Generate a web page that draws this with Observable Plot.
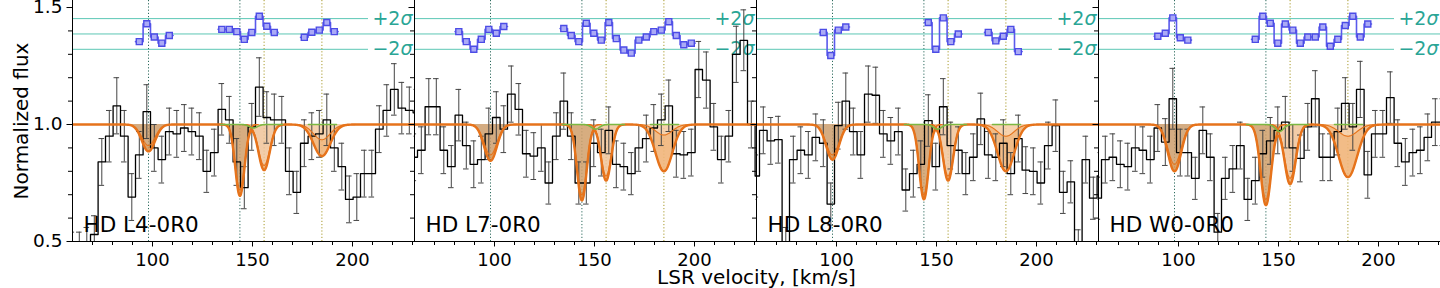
<!DOCTYPE html>
<html><head><meta charset="utf-8">
<script src="https://cdn.jsdelivr.net/npm/d3@7"></script>
<script src="https://cdn.jsdelivr.net/npm/@observablehq/plot@0.6"></script>
<style>body{margin:0;background:#fff} #chart svg{display:block}</style>
</head><body><div id="chart"></div>
<script>
const panels = ["HD L4-0R0", "HD L7-0R0", "HD L8-0R0", "HD W0-0R0"];
const binEdges = [57.8, 61.5, 65.3, 69, 72.8, 76.5, 80.3, 84, 87.8, 91.5, 95.3, 99, 102.8, 106.5, 110.3, 114, 117.8, 121.5, 125.3, 129, 132.8, 136.5, 140.3, 144, 147.8, 151.5, 155.3, 159, 162.8, 166.5, 170.3, 174, 177.8, 181.5, 185.3, 189, 192.8, 196.5, 200.3, 204, 207.8, 211.5, 215.3, 219, 222.8, 226.5, 230.3, 234];

const flux_L4 = [0.45, 0.45, 0.48, 0.53, 0.84, 0.95, 1.08, 0.95, 0.69, 0.87, 1.055, 0.90, 0.85, 0.97, 0.96, 0.985, 0.97, 0.95, 0.80, 0.88, 1.065, 1.02, 0.84, 0.73, 0.99, 1.16, 1.03, 1.02, 1.02, 0.80, 0.71, 0.92, 0.95, 0.96, 1.02, 0.90, 0.82, 0.68, 0.69, 0.79, 0.79, 0.98, 1.06, 1.15, 1.07, 1.06, 1.05];
const flux_L7 = [0.86, 0.89, 1.076, 1.076, 0.89, 0.82, 1.04, 0.91, 0.83, 0.85, 0.96, 1.03, 0.98, 1.13, 1.065, 0.875, 0.865, 0.90, 0.75, 0.95, 1.10, 0.95, 0.75, 0.75, 0.92, 0.88, 0.975, 0.83, 0.82, 0.79, 0.90, 0.94, 0.985, 1.02, 1.08, 0.875, 0.87, 0.88, 1.235, 1.19, 0.99, 0.85, 0.95, 1.30, 1.36, 1.0, 0.78];
const flux_L8 = [0.78, 0.975, 0.93, 0.935, 0.48, 0.85, 0.89, 0.87, 0.945, 0.92, 0.66, 0.995, 1.10, 0.97, 0.87, 1.13, 1.125, 0.96, 0.93, 0.97, 0.72, 0.79, 0.83, 1.017, 0.82, 1.076, 0.91, 0.89, 0.79, 0.86, 1.024, 0.87, 0.86, 0.92, 0.79, 0.94, 0.805, 0.80, 0.75, 0.91, 0.995, 0.71, 0.755, 0.47, 0.85, 0.685, 0.78];
const flux_W0 = [0.685, 0.85, 0.86, 0.83, 0.82, 0.90, 0.89, 0.85, 0.985, 0.925, 1.11, 0.88, 0.88, 0.77, 0.975, 0.86, 0.54, 0.77, 0.81, 0.91, 0.68, 0.76, 0.875, 0.93, 0.975, 1.01, 0.90, 0.855, 0.99, 1.11, 0.86, 0.86, 0.97, 1.09, 0.99, 1.15, 0.785, 0.96, 0.96, 1.115, 0.92, 0.84, 0.88, 0.89, 0.945, 1.01, 1.01];

const err_L4 = [0.09,0.09,0.08,0.08,0.1,0.11,0.12,0.11,0.1,0.1,0.115,0.1,0.1,0.1,0.1,0.1,0.1,0.1,0.09,0.1,0.11,0.1,0.1,0.09,0.1,0.125,0.11,0.11,0.1,0.1,0.09,0.1,0.1,0.1,0.11,0.1,0.1,0.1,0.1,0.1,0.1,0.1,0.11,0.11,0.11,0.1,0.1];
const err_L7 = [0.1,0.1,0.12,0.12,0.1,0.09,0.11,0.1,0.1,0.1,0.11,0.11,0.1,0.12,0.11,0.1,0.1,0.1,0.09,0.1,0.12,0.1,0.09,0.09,0.1,0.1,0.1,0.1,0.1,0.09,0.1,0.1,0.1,0.11,0.11,0.1,0.1,0.1,0.12,0.12,0.1,0.1,0.11,0.12,0.13,0.1,0.1];
const err_L8 = [0.09,0.1,0.1,0.1,0.08,0.1,0.1,0.1,0.1,0.1,0.09,0.1,0.12,0.1,0.1,0.12,0.12,0.1,0.1,0.1,0.09,0.1,0.1,0.11,0.1,0.12,0.1,0.1,0.09,0.1,0.11,0.1,0.1,0.1,0.09,0.1,0.1,0.1,0.09,0.1,0.11,0.09,0.09,0.08,0.1,0.09,0.1];
const err_W0 = [0.09,0.1,0.1,0.1,0.1,0.1,0.1,0.1,0.1,0.1,0.13,0.1,0.1,0.09,0.1,0.1,0.08,0.09,0.1,0.1,0.09,0.1,0.1,0.1,0.1,0.11,0.1,0.1,0.1,0.12,0.1,0.1,0.1,0.11,0.1,0.12,0.1,0.1,0.1,0.11,0.1,0.1,0.1,0.1,0.1,0.1,0.1];

// residual windows (start = index into binEdges), values in sigma units
const resStart_L4 = [9, 20, 31];
const resVals_L4 = [[-1.0, 1.33, -0.4, -1.2, -0.2], [0.6, 0.6, 0.3, -0.7, 0.2, 2.3, 1.0, 0.2], [-0.44, 0.22, 0.5, 1.5, 0.3]];
const resStart_L7 = [6, 20];
const resVals_L7 = [[0.3, -1.0, -2.0, -0.7, 0.6, 0.1, 0.98], [0.7, -0.2, -1.0, 1.4, 0.1, -0.8, 1.5, -0.6, -2.1, -2.5, -0.8, -0.4, 0.3, 0.5, 1.6, -0.2, -1.4, -1.2]];
const resStart_L8 = [9, 23, 31];
const resVals_L8 = [[0.2, -2.8, 0.5, 0.9], [1.5, -2.0, 2.1, -1.0, 0.0], [0.2, -0.9, -0.3, 0.6, -2.3]];
const resStart_W0 = [8, 21];
const resVals_W0 = [[-0.3, 0.1, 2.1, -0.5, -0.8], [-0.7, 2.3, 1.4, -1.2, 1.3, 0.5, -1.2, -0.4, -0.4, 0.9, -1.6, -0.7, 1.1, 2.3, -0.4, 1.3]];

// absorption components
const compCenters = [98.0, 143.7, 155.8, 184.7];
const compLo_L4 = [0.885, 0.695, 0.805, 0.865];
const compHi_L4 = [0.91, 0.72, 0.825, 0.935];
const compSig_L4 = [3.3, 2.3, 2.8, 4.2];
const compLo_L7 = [0.845, 0.675, 0.76, 0.80];
const compHi_L7 = [0.87, 0.70, 0.78, 0.955];
const compSig_L7 = [3.2, 2.4, 2.5, 4.2];
const compLo_L8 = [0.85, 0.68, 0.76, 0.80];
const compHi_L8 = [0.87, 0.70, 0.78, 0.95];
const compSig_L8 = [3.2, 2.3, 2.5, 4.2];
const compLo_W0 = [0.80, 0.655, 0.745, 0.775];
const compHi_W0 = [0.83, 0.68, 0.77, 0.95];
const compSig_W0 = [3.3, 2.6, 2.8, 4.6];
const greenCenter = 150.5, greenSig = 2.0;
const greenDepth = [0.015, 0.02, 0.02, 0.03];
const greenRanges = [[134, 165], [178, 192]];

const xDomain = [60, 231], yDomain = [0.5, 1.53];
const xMajor = [100, 150, 200];
const xMinor = [70, 80, 90, 110, 120, 130, 140, 160, 170, 180, 190, 210, 220, 230];
const yMajor = [0.5, 1.0, 1.5];
const yMinor = [0.6, 0.7, 0.8, 0.9, 1.1, 1.2, 1.3, 1.4];
const sigmaLevels = [2, -2];
const sigmaLabels = ["+2σ", "−2σ"];
const resMid = 1.387, resUnit = 0.0328;

const fluxes = [flux_L4, flux_L7, flux_L8, flux_W0];
const errs = [err_L4, err_L7, err_L8, err_W0];
const resStarts = [resStart_L4, resStart_L7, resStart_L8, resStart_W0];
const resVals = [resVals_L4, resVals_L7, resVals_L8, resVals_W0];
const compLo = [compLo_L4, compLo_L7, compLo_L8, compLo_W0];
const compHi = [compHi_L4, compHi_L7, compHi_L8, compHi_W0];
const compSig = [compSig_L4, compSig_L7, compSig_L8, compSig_W0];

const gauss = (v, c, s) => Math.exp(-0.5 * ((v - c) / s) ** 2);
const vGrid = d3.range(xDomain[0], xDomain[1] + 0.001, 0.25);
const nb = binEdges.length - 1;

const stepRows = panels.flatMap((p, k) => [
  ...fluxes[k].map((f, i) => ({p, v: binEdges[i], f})),
  {p, v: binEdges[nb], f: fluxes[k][nb - 1]}
]);
const errRows = panels.flatMap((p, k) => fluxes[k].map((f, i) => ({
  p, v: (binEdges[i] + binEdges[i + 1]) / 2, lo: f - errs[k][i], hi: f + errs[k][i]
})));
const resRows = [], resDots = [];
panels.forEach((p, k) => resStarts[k].forEach((s, w) => {
  const vals = resVals[k][w];
  const z = k + "-" + w;
  vals.forEach((r, j) => {
    resRows.push({p, z, v: binEdges[s + j], y: resMid + r * resUnit});
    resDots.push({p, v: (binEdges[s + j] + binEdges[s + j + 1]) / 2, y: resMid + r * resUnit});
  });
  resRows.push({p, z, v: binEdges[s + vals.length], y: resMid + vals[vals.length - 1] * resUnit});
}));
const modelRows = panels.flatMap((p, k) => vGrid.map(v => ({
  p, v, m: 1 - compCenters.reduce((a, c, i) => a + (1 - compLo[k][i]) * gauss(v, c, compSig[k][i]), 0)
})));
const compRows = compCenters.map((c, i) => panels.flatMap((p, k) => {
  const s = compSig[k][i];
  return vGrid.filter(v => Math.abs(v - c) <= 4 * s).map(v => ({
    p, v, lo: 1 - (1 - compLo[k][i]) * gauss(v, c, s), hi: 1 - (1 - compHi[k][i]) * gauss(v, c, s)
  }));
}));
const greenRows = panels.flatMap((p, k) => greenRanges.flatMap(([a, b], r) =>
  vGrid.filter(v => v >= a && v <= b).map(v => ({p, z: r, v, g: 1 - greenDepth[k] * gauss(v, greenCenter, greenSig)}))
));

const teal = "#5cc7b5", tealText = "#2aa595", orange = "#e6731b", blue = "#5a5aec";
const compFill = ["#cc9d6c", "#d09f6a", "#f0c399", "#f4caa0"];
const FH = 241, FW = 342;

const marks = [
  Plot.ruleY([0], {y: d => resMid + d * resUnit, stroke: teal, strokeWidth: 1}),
  Plot.ruleY(sigmaLevels, {y: d => resMid + d * resUnit, stroke: teal, strokeWidth: 1, insetRight: 46}),
  Plot.text(sigmaLabels, {y: (d, i) => resMid + sigmaLevels[i] * resUnit, text: d => d, frameAnchor: "right", textAnchor: "end", lineAnchor: "middle", dx: -2, fill: tealText, fontSize: 19}),
  Plot.ruleX(compCenters.slice(0, 2), {x: d => d, stroke: "#2e6b5e", strokeDasharray: "1.2,2", strokeWidth: 1}),
  Plot.ruleX(compCenters.slice(2), {x: d => d, stroke: "#a89a2c", strokeDasharray: "1.2,2", strokeWidth: 1}),
];
compRows.forEach((rows, i) => {
  marks.push(Plot.areaY(rows, {x: "v", y1: d => 1, y2: "lo", fx: "p", fill: compFill[i], fillOpacity: 0.85, clip: true}));
  marks.push(Plot.areaY(rows, {x: "v", y1: "hi", y2: "lo", fx: "p", fill: "#e88a30", fillOpacity: 0.3, clip: true}));
});
marks.push(
  Plot.ruleX(errRows, {x: "v", y1: "lo", y2: "hi", fx: "p", stroke: "#444", strokeWidth: 1, clip: true}),
  Plot.ruleY(errRows, {y: "lo", x1: d => d.v - 1.4, x2: d => d.v + 1.4, fx: "p", stroke: "#444", strokeWidth: 1, clip: true}),
  Plot.ruleY(errRows, {y: "hi", x1: d => d.v - 1.4, x2: d => d.v + 1.4, fx: "p", stroke: "#444", strokeWidth: 1, clip: true}),
  Plot.line(stepRows, {x: "v", y: "f", fx: "p", curve: "step-after", stroke: "black", strokeWidth: 1.3, clip: true})
);
compRows.forEach(rows => {
  marks.push(Plot.line(rows, {x: "v", y: "hi", fx: "p", stroke: orange, strokeWidth: 1.1, clip: true}));
  marks.push(Plot.line(rows, {x: "v", y: "lo", fx: "p", stroke: orange, strokeWidth: 1.3, clip: true}));
});
marks.push(
  Plot.line(modelRows, {x: "v", y: "m", fx: "p", stroke: orange, strokeWidth: 2.4, clip: true}),
  Plot.line(greenRows, {x: "v", y: "g", z: "z", fx: "p", stroke: "#7cb842", strokeWidth: 1.6, clip: true}),
  Plot.line(resRows, {x: "v", y: "y", z: "z", fx: "p", curve: "step-after", stroke: blue, strokeWidth: 1.6}),
  Plot.dot(resDots, {x: "v", y: "y", fx: "p", symbol: "square", r: 3.4, fill: "#aaaaf6", stroke: "#4c4ce6", strokeWidth: 1.4}),
  Plot.ruleX(xDomain, {x: d => d, stroke: "black", strokeWidth: 1}),
  Plot.ruleY([yDomain[0]], {y: d => d, stroke: "black", strokeWidth: 1}),
  // outward ticks
  Plot.tickX(xMinor, {x: d => d, insetTop: FH - 4, dy: 4, stroke: "black"}),
  Plot.tickX(xMajor, {x: d => d, insetTop: FH - 5.5, dy: 5.5, stroke: "black"}),
  Plot.tickY(yMinor, {y: d => d, insetRight: FW - 4, dx: -4, stroke: "black"}),
  Plot.tickY(yMajor, {y: d => d, insetRight: FW - 5.5, dx: -5.5, stroke: "black"}),
  Plot.axisX({ticks: xMajor, tickSize: 0, tickPadding: 12, label: null, fontSize: 18, facetAnchor: "bottom"}),
  Plot.axisY({ticks: yMajor, tickFormat: d3.format(".1f"), tickSize: 0, tickPadding: 10, label: null, fontSize: 18.5, facetAnchor: "left"}),
  Plot.text(panels, {fx: d => d, text: d => d, frameAnchor: "bottom-left", textAnchor: "start", lineAnchor: "middle", dx: 11, dy: -16, fontSize: 21.5, fill: "black"}),
  Plot.text(["Normalized flux"], {fx: () => panels[0], text: d => d, frameAnchor: "left", textAnchor: "middle", lineAnchor: "middle", rotate: -90, dx: -51, fontSize: 20, fill: "black"}),
  Plot.text(["LSR velocity, [km/s]"], {fx: () => panels[1], text: d => d, frameAnchor: "bottom-right", textAnchor: "middle", lineAnchor: "middle", dy: 36, fontSize: 20, fill: "black"})
);

const chart = Plot.plot({
  width: 1440, height: 288,
  marginLeft: 72, marginRight: 0, marginTop: 0, marginBottom: 47,
  x: {domain: xDomain, axis: null},
  y: {domain: yDomain, axis: null},
  fx: {domain: panels, padding: 0, axis: null},
  style: {fontFamily: "DejaVu Sans", fontSize: "20px", background: "#fff", overflow: "visible"},
  marks
});
d3.select(chart).selectAll("text").each(function() {
  const t = this.textContent;
  if (t.includes("σ") && this.childElementCount === 0) {
    const parts = t.split("σ");
    const sel = d3.select(this);
    sel.text(null);
    sel.append("tspan").text(parts[0]);
    sel.append("tspan").attr("font-style", "italic").text("σ");
  }
});
document.getElementById("chart").appendChild(chart);
</script>
</body></html>
